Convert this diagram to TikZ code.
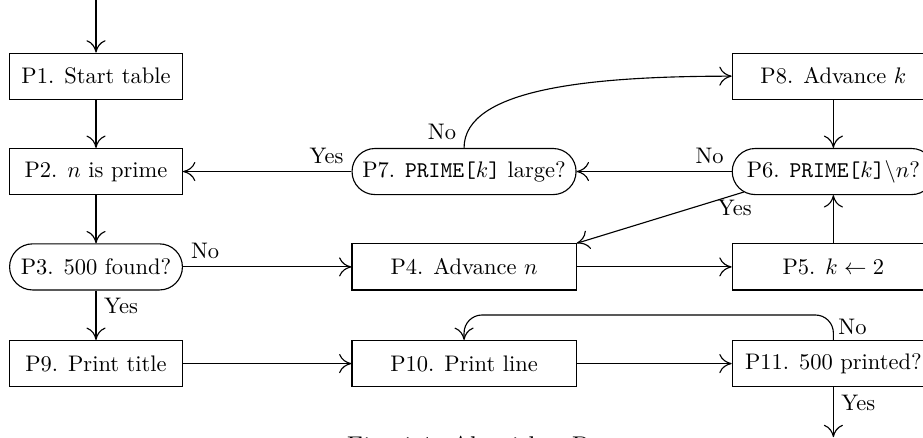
\documentclass[tikz,border=0pt]{standalone}
\usepackage{amssymb}
\usetikzlibrary{arrows.meta}
\begin{document}
\begin{tikzpicture}[line width=0.5pt,>={To[length=5.5pt,width=8.5pt]},
  box/.style={draw,rectangle,minimum height=0.72cm},
  test/.style={draw,rectangle,rounded corners=0.359cm,minimum height=0.72cm}]
\useasboundingbox (0,0) rectangle (14.42,-6.84);

\node[box,minimum width=2.7cm](p1) at(1.5,-1.19){P1. Start table};
\node[box,minimum width=2.7cm](p2) at(1.5,-2.68){P2. $n$ is prime};
\node[test,minimum width=2.7cm](p3) at(1.5,-4.17){P3. 500 found?};
\node[box,minimum width=2.7cm](p9) at(1.5,-5.68){P9. Print title};
\node[test,minimum width=3.5cm](p7) at(7.25,-2.68){P7. \texttt{PRIME[}$k$\texttt{]} large?};
\node[box,minimum width=3.5cm](p4) at(7.25,-4.17){P4. Advance $n$};
\node[box,minimum width=3.5cm](p10) at(7.25,-5.68){P10. Print line};
\node[box,minimum width=3.16cm](p8) at(13.02,-1.19){P8. Advance $k$};
\node[test,minimum width=3.16cm](p6) at(13.02,-2.68){P6. \texttt{PRIME[}$k$\texttt{]}$\backslash n$?};
\node[box,minimum width=3.16cm](p5) at(13.02,-4.17){P5. $k\leftarrow 2$};
\node[box,minimum width=3.16cm](p11) at(13.02,-5.68){P11. 500 printed?};
\coordinate (in) at (1.5,0.1);
\coordinate (out) at (13.02,-6.83);
\coordinate (yes6) at ([shift={(0.19,-0.32)}]p6.west);
\node[anchor=north,inner sep=0,font=\fontsize{11.4}{13}\selectfont](cap) at(7.35,-6.8){Fig. 1.1. Algorithm P.};

\draw [->](in)--(p1);
\draw [->](p1)--(p2);
\draw [->](p2)--(p3);
\draw [->](p3)--(p9) node[pos=0,below right]{Yes};
\draw [->](p3)--(p4) node[pos=0,above right]{No};
\draw [->](p4)--(p5);
\draw [->](p5)--(p6);
\draw [->](p6)--(p7) node[pos=0,above left]{No};
\draw [->](yes6)--(p4.north east) node[pos=0,below,xshift=-4pt]{Yes};
\draw [->](p7)--(p2) node[pos=0,above left]{Yes};
\draw [->](p7.north) node[above left]{No} to[out=90,in=180,out looseness=0.55,in looseness=1.3](p8);
\draw [->](p8)--(p6);
\draw [->](p9)--(p10);
\draw [->](p10)--(p11);
\draw [->,rounded corners=8pt](p11.north) node[above right,inner sep=2pt]{No} --++(0,0.39) -|(p10.north);
\draw [->](p11)--(out) node[pos=0,below right]{Yes};
\end{tikzpicture}
\end{document}
